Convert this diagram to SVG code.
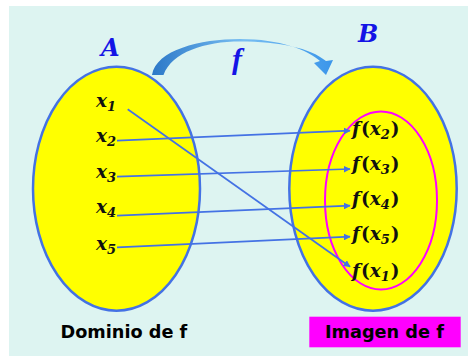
<svg xmlns="http://www.w3.org/2000/svg" width="468" height="356" viewBox="0 0 468 356">
<defs>
<linearGradient id="arcg" x1="152" y1="0" x2="334" y2="0" gradientUnits="userSpaceOnUse">
<stop offset="0" stop-color="#2C78C8"/>
<stop offset="0.5" stop-color="#78BEF2"/>
<stop offset="1" stop-color="#3A95EA"/>
</linearGradient>
<marker id="ah" viewBox="0 0 10 10" refX="9" refY="5" markerWidth="7" markerHeight="7" markerUnits="userSpaceOnUse" orient="auto">
<path d="M0,0 L10,5 L0,10 Z" fill="#4472E4"/>
</marker>
</defs>
<style>
.set{fill:#FFFF00;stroke:#4472E4;stroke-width:2.5}
.m{font-family:"DejaVu Serif",serif;font-weight:bold;font-style:italic;font-size:18.5px;fill:#111}
.sub{font-size:13px}
.up{font-style:normal}
.conn{stroke:#4472E4;stroke-width:1.7;fill:none;marker-end:url(#ah)}
.title{font-family:"DejaVu Serif",serif;font-weight:bold;font-style:italic;font-size:24px;fill:#1414E6}
.cap{font-family:"DejaVu Sans",sans-serif;font-weight:bold;font-size:17.7px;fill:#000}
</style>
<rect x="9" y="6" width="459" height="350" fill="#DDF4F1"/>
<g id="setA">
<ellipse class="set" cx="116.5" cy="188.7" rx="83.5" ry="122"/>
<text class="title" x="101" y="56">A</text>
<text class="m" x="96" y="107">x<tspan class="sub" dy="4">1</tspan></text>
<text class="m" x="96" y="142">x<tspan class="sub" dy="4">2</tspan></text>
<text class="m" x="96" y="178">x<tspan class="sub" dy="4">3</tspan></text>
<text class="m" x="96" y="213">x<tspan class="sub" dy="4">4</tspan></text>
<text class="m" x="96" y="250">x<tspan class="sub" dy="4">5</tspan></text>
<text class="cap" x="60.5" y="338">Dominio de f</text>
</g>
<g id="setB">
<ellipse class="set" cx="373" cy="188.7" rx="83.7" ry="122"/>
<ellipse cx="381" cy="200.5" rx="56" ry="89" fill="none" stroke="#FF00FF" stroke-width="2"/>
<text class="title" x="358" y="42">B</text>
<text class="m" x="352" y="135">f<tspan class="up" dx="1">(</tspan>x<tspan class="sub" dy="4">2</tspan><tspan class="up" dy="-4" dx="1">)</tspan></text>
<text class="m" x="352" y="170">f<tspan class="up" dx="1">(</tspan>x<tspan class="sub" dy="4">3</tspan><tspan class="up" dy="-4" dx="1">)</tspan></text>
<text class="m" x="352" y="205">f<tspan class="up" dx="1">(</tspan>x<tspan class="sub" dy="4">4</tspan><tspan class="up" dy="-4" dx="1">)</tspan></text>
<text class="m" x="352" y="240">f<tspan class="up" dx="1">(</tspan>x<tspan class="sub" dy="4">5</tspan><tspan class="up" dy="-4" dx="1">)</tspan></text>
<text class="m" x="352" y="277">f<tspan class="up" dx="1">(</tspan>x<tspan class="sub" dy="4">1</tspan><tspan class="up" dy="-4" dx="1">)</tspan></text>
<rect x="309.3" y="316.7" width="151.4" height="30.6" fill="#FF00FF"/>
<text class="cap" x="325" y="338">Imagen de f</text>
</g>
<g id="mapping">
<path d="M152,75 C156,50 200,39 240,39 C280,39 308,50 320,61 L314,63 L326,75 L333,60 L326,61 C310,48 280,41.5 240,41.5 C205,41.5 172,52 163.5,75 Z" fill="url(#arcg)"/>
<text x="232" y="69" font-family="Liberation Serif, serif" font-style="italic" font-weight="bold" font-size="30" fill="#1414E6">f</text>
</g>
<g id="connectors">
<line class="conn" x1="117" y1="140.7" x2="350" y2="130.7"/>
<line class="conn" x1="117" y1="176.7" x2="350" y2="169"/>
<line class="conn" x1="117" y1="215.7" x2="350" y2="205.7"/>
<line class="conn" x1="117" y1="247.3" x2="350" y2="236.7"/>
<line class="conn" x1="127.7" y1="109.3" x2="350" y2="266.7"/>
</g>
</svg>
